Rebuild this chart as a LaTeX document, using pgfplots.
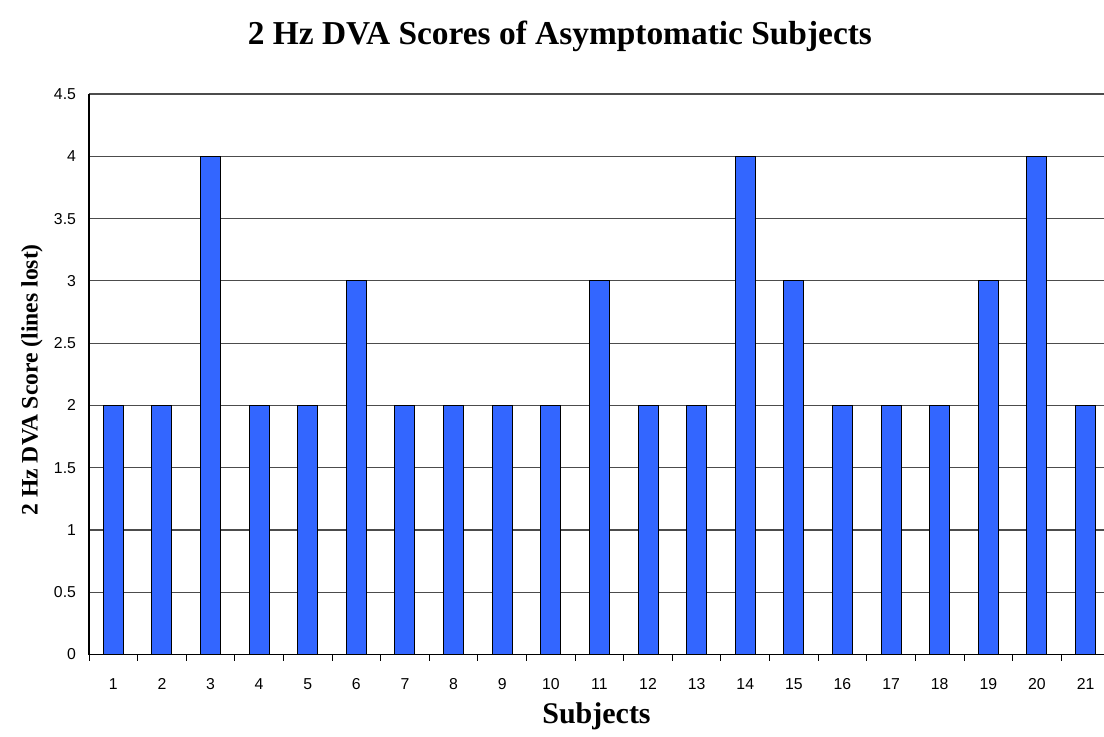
\documentclass[border=0pt]{standalone}
\usepackage{fontspec}
\setmainfont{Liberation Serif}
\newfontfamily\arialf{Liberation Sans}
\usepackage{pgfplots}
\pgfplotsset{compat=1.18}
\definecolor{barblue}{HTML}{3366FF}
\begin{document}
\begin{tikzpicture}
\useasboundingbox (-44.5pt,-40.75pt) rectangle (507.5pt,327.25pt);
\begin{axis}[
  scale only axis,
  width=507.5pt, height=280.25pt,
  xmin=0.5, xmax=21.38,
  ymin=0, ymax=4.5,
  axis x line*=bottom, axis y line*=left,
  axis line style={black, line width=0.6pt, -},
  ytick={0,0.5,...,4.5},
  yticklabels={0,0.5,1,1.5,2,2.5,3,3.5,4,4.5},
  xtick={1,...,21},
  major tick length=0pt,
  ymajorgrids,
  grid style={black!70, line width=0.6pt},
  extra x ticks={0.5,1.5,...,20.5},
  extra x tick labels={},
  extra x tick style={major tick length=3pt, tick style={black, line width=0.5pt}, tickwidth=3pt, xtick pos=bottom},
  tick align=outside,
  y tick style={black, line width=0.5pt},
  /pgf/number format/assume math mode=true,
  tick label style={font=\arialf\fontsize{7.9}{9}\selectfont},
  yticklabel style={xshift=-3pt},
  xticklabel style={yshift=-8.5pt},
  xlabel={\textbf{Subjects}},
  ylabel={\textbf{2 Hz DVA Score (lines lost)}},
  xlabel style={font=\fontsize{15}{17}\selectfont, at={(axis description cs:0.5,0)}, anchor=center, yshift=-30.75pt},
  ylabel style={font=\fontsize{11.8}{13}\selectfont, at={(axis description cs:-0.0561,0.49)}, anchor=center, rotate=0},
  title={\textbf{2 Hz DVA Scores of Asymptomatic Subjects}},
  title style={font=\fontsize{16.7}{19}\selectfont, at={(axis description cs:0.464,1)}, anchor=center, yshift=23pt},
  clip=false,
]
\addplot[ybar, bar width=10pt, fill=barblue, draw=black, line width=0.5pt] coordinates {
(1,2) (2,2) (3,4) (4,2) (5,2) (6,3) (7,2) (8,2) (9,2) (10,2) (11,3)
(12,2) (13,2) (14,4) (15,3) (16,2) (17,2) (18,2) (19,3) (20,4) (21,2)
};
\end{axis}
\end{tikzpicture}
\end{document}
